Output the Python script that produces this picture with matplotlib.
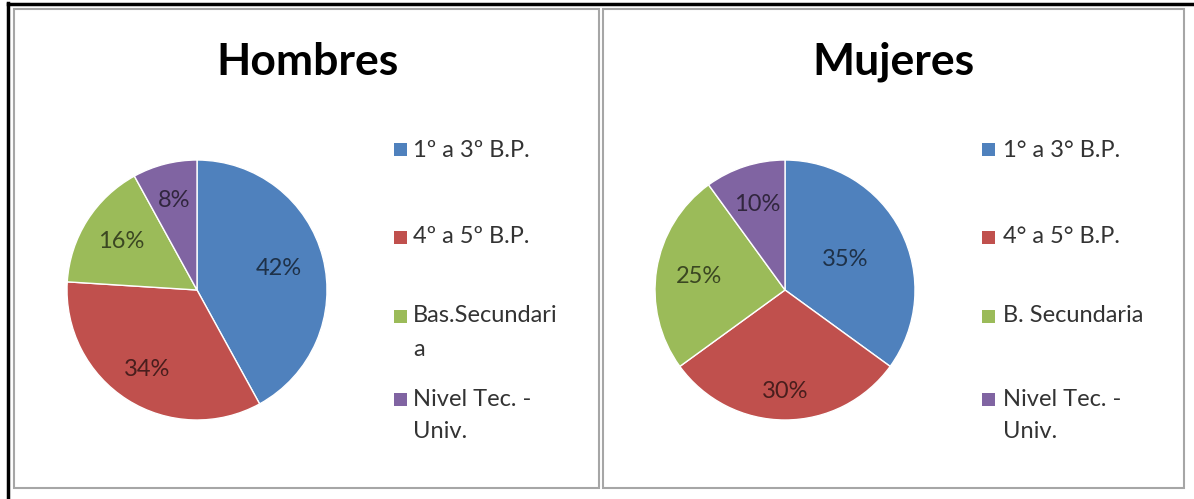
import numpy as np
import matplotlib
matplotlib.use("Agg")
import matplotlib.pyplot as plt
from matplotlib.patches import Rectangle
from matplotlib.lines import Line2D
from matplotlib.colors import to_rgb

W, H = 1194, 499

titles = ["Hombres", "Mujeres"]
hombres_labels = ["1º a 3º B.P.", "4º a 5º B.P.", "Bas.Secundari\na", "Nivel Tec. -\nUniv."]
mujeres_labels = ["1° a 3° B.P.", "4° a 5° B.P.", "B. Secundaria", "Nivel Tec. -\nUniv."]
hombres_pct = [42, 34, 16, 8]
mujeres_pct = [35, 30, 25, 10]
colors = ["#4F81BD", "#C0504D", "#9BBB59", "#8064A2"]

plt.rcParams['font.family'] = ['Lato', 'DejaVu Sans']


def fx(x):
    return x / W


def fy(y):
    return 1 - y / H


def darker(c, f=0.38):
    return tuple(v * f for v in to_rgb(c))


fig = plt.figure(figsize=(W / 100, H / 100), dpi=100)
fig.patch.set_facecolor("white")

# outer black frame (only left and top show)
fig.add_artist(Line2D([fx(8), fx(8)], [fy(3), fy(499)], color="black", lw=2.5))
fig.add_artist(Line2D([fx(8), fx(1194)], [fy(3.5), fy(3.5)], color="black", lw=2.5))

# gray boxes round each chart
for x0, x1 in [(14, 599), (603, 1184)]:
    fig.add_artist(Rectangle((fx(x0), fy(488)), fx(x1) - fx(x0), fy(9) - fy(488),
                             fill=False, edgecolor="#A6A6A6", lw=1.5))

panels = [
    dict(title=titles[0], labels=hombres_labels, pct=hombres_pct,
         cx=197, tx=307, mx=394, lx=413, dist=[0.65, 0.72, 0.69, 0.71]),
    dict(title=titles[1], labels=mujeres_labels, pct=mujeres_pct,
         cx=785, tx=893, mx=982, lx=1003, dist=[0.52, 0.78, 0.67, 0.69]),
]
legend_y = [150, 237, 316, 399]
cy, r = 290, 130

for p in panels:
    ax = fig.add_axes([fx(p["cx"] - r), fy(cy + r), 2 * r / W, 2 * r / H])
    wedges, texts, autotexts = ax.pie(
        p["pct"], colors=colors, startangle=90, counterclock=False,
        autopct="%d%%", pctdistance=0.68,
        wedgeprops=dict(edgecolor="white", linewidth=1),
        textprops=dict(fontsize=17))
    # move labels the way Excel places them inside each slice
    for w, t, d, c in zip(wedges, autotexts, p["dist"], colors):
        ang = np.deg2rad((w.theta1 + w.theta2) / 2)
        t.set_position((d * np.cos(ang), d * np.sin(ang)))
        t.set_color(darker(c))
    ax.set_xlim(-1, 1)
    ax.set_ylim(-1, 1)
    ax.set_aspect("equal")

    fig.text(fx(p["tx"]), fy(62), p["title"], ha="center", va="center",
             fontsize=32, fontweight="bold", color="black")

    for lab, col, y in zip(p["labels"], colors, legend_y):
        fig.add_artist(Rectangle((fx(p["mx"]), fy(y + 6.5)), 13 / W, 13 / H,
                                 facecolor=col, edgecolor="none"))
        for k, line in enumerate(lab.split("\n")):
            fig.text(fx(p["lx"]), fy(y + 33 * k), line, ha="left", va="center",
                     fontsize=17, color="#333333")

fig.savefig("out.png", dpi=100)
